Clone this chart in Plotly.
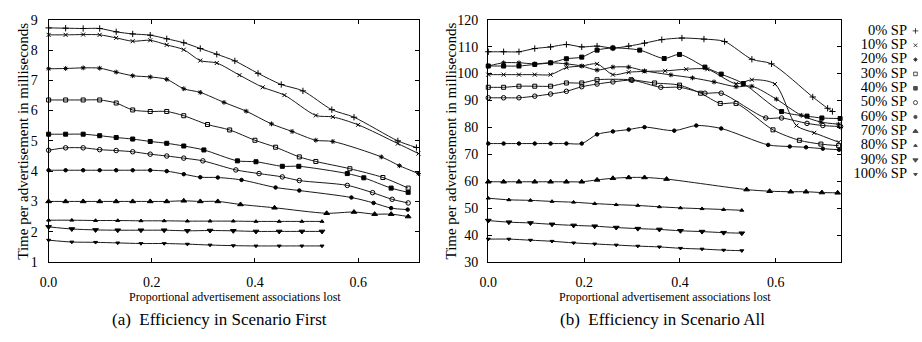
import plotly.graph_objects as go

LABELS = ["0% SP", "10% SP", "20% SP", "30% SP", "40% SP", "50% SP",
          "60% SP", "70% SP", "80% SP", "90% SP", "100% SP"]
X_TICKS = [0.0, 0.2, 0.4, 0.6]

# ---------------- (a) Scenario First ----------------
A_X_0 = [0, .033, .067, .099, .131, .163, .197, .229, .262, .294, .326, .361, .406, .451, .493, .549, .592, .677, .713]
A_Y_0 = [8.73, 8.72, 8.71, 8.71, 8.60, 8.53, 8.49, 8.37, 8.24, 8.05, 7.86, 7.64, 7.23, 6.86, 6.65, 6.03, 5.78, 5.00, 4.78]
A_X_10 = [0, .033, .067, .099, .131, .163, .197, .229, .262, .294, .326, .370, .415, .457, .518, .551, .600, .677, .717]
A_Y_10 = [8.50, 8.50, 8.51, 8.50, 8.40, 8.29, 8.32, 8.17, 8.01, 7.65, 7.57, 7.17, 6.77, 6.51, 5.84, 5.79, 5.53, 4.91, 4.58]
A_X_20 = [0, .033, .067, .099, .131, .163, .197, .229, .262, .294, .340, .383, .432, .472, .518, .551, .645, .680, .717]
A_Y_20 = [7.38, 7.39, 7.41, 7.40, 7.27, 7.15, 7.11, 7.03, 6.72, 6.60, 6.27, 5.98, 5.56, 5.31, 5.02, 4.98, 4.47, 4.18, 3.92]
A_X_30 = [0, .033, .067, .099, .131, .163, .197, .229, .262, .308, .351, .400, .440, .486, .518, .584, .648, .697]
A_Y_30 = [6.35, 6.35, 6.35, 6.35, 6.25, 6.02, 5.97, 5.97, 5.83, 5.54, 5.36, 5.02, 4.79, 4.47, 4.32, 4.08, 3.79, 3.44]
A_X_40 = [0, .033, .067, .099, .131, .163, .197, .229, .262, .301, .366, .402, .453, .485, .579, .611, .664, .697]
A_Y_40 = [5.22, 5.22, 5.22, 5.17, 5.11, 5.06, 4.98, 4.92, 4.83, 4.70, 4.34, 4.31, 4.16, 4.16, 3.92, 3.78, 3.44, 3.30]
A_X_50 = [0, .033, .067, .099, .131, .163, .197, .229, .262, .299, .363, .408, .453, .486, .579, .628, .666, .697]
A_Y_50 = [4.69, 4.77, 4.77, 4.71, 4.68, 4.64, 4.56, 4.50, 4.43, 4.34, 4.04, 3.92, 3.81, 3.69, 3.53, 3.29, 3.07, 2.95]
A_X_60 = [0, .033, .067, .099, .131, .163, .197, .229, .262, .294, .328, .374, .440, .486, .587, .630, .664, .696]
A_Y_60 = [4.03, 4.03, 4.03, 4.03, 4.03, 4.03, 4.03, 4.00, 3.90, 3.80, 3.79, 3.71, 3.46, 3.36, 3.13, 2.95, 2.78, 2.73]
A_X_70 = [0, .033, .067, .099, .131, .163, .197, .229, .262, .294, .328, .372, .438, .539, .592, .632, .664, .697]
A_Y_70 = [3.00, 3.00, 3.00, 3.00, 3.00, 3.00, 3.00, 3.00, 3.02, 3.00, 3.00, 2.90, 2.79, 2.61, 2.65, 2.58, 2.58, 2.50]
A_X_SPARSE = [0, .045, .091, .134, .179, .224, .269, .313, .358, .402, .447, .491, .530]
A_Y_80 = [2.38, 2.38, 2.37, 2.37, 2.36, 2.36, 2.35, 2.35, 2.35, 2.34, 2.34, 2.34, 2.34]
A_Y_90 = [2.16, 2.09, 2.06, 2.05, 2.05, 2.05, 2.03, 2.04, 2.03, 2.01, 2.01, 2.01, 2.01]
A_Y_100 = [1.72, 1.66, 1.65, 1.63, 1.61, 1.61, 1.59, 1.56, 1.54, 1.53, 1.53, 1.53, 1.53]

# ---------------- (b) Scenario All ----------------
B_X_0 = [0, .032, .064, .097, .130, .163, .195, .227, .260, .293, .326, .362, .404, .450, .493, .550, .591, .677, .708, .718]
B_Y_0 = [108.1, 108.1, 108.1, 109.3, 109.9, 110.8, 109.9, 110.2, 109.5, 110.2, 111.3, 112.6, 113.2, 112.8, 111.9, 105.3, 103.6, 91.3, 87.1, 85.9]
B_X_10 = [0, .032, .064, .097, .130, .163, .195, .227, .260, .293, .326, .369, .413, .457, .517, .550, .598, .643, .680, .731]
B_Y_10 = [99.6, 99.6, 99.6, 99.6, 99.6, 102.2, 102.8, 103.6, 99.6, 100.5, 100.8, 101.0, 101.6, 101.6, 96.2, 97.7, 96.1, 80.7, 78.0, 74.5]
B_X_20 = [0, .032, .064, .097, .130, .163, .195, .227, .260, .293, .326, .381, .426, .471, .517, .550, .601, .653, .694, .731]
B_Y_20 = [102.8, 104.0, 104.0, 103.6, 104.0, 103.6, 102.8, 101.3, 102.4, 102.4, 101.0, 99.5, 98.4, 96.9, 95.1, 95.3, 90.5, 84.5, 82.0, 81.2]
B_X_30 = [0, .032, .064, .097, .130, .163, .195, .227, .298, .347, .399, .443, .484, .517, .594, .649, .694, .731]
B_Y_30 = [94.9, 94.9, 95.3, 95.3, 95.3, 96.5, 96.5, 97.7, 97.7, 96.5, 95.7, 92.7, 88.9, 88.9, 79.1, 75.2, 73.8, 73.2]
B_X_40 = [0, .032, .064, .097, .130, .163, .195, .227, .260, .316, .367, .399, .452, .486, .532, .612, .665, .696, .734]
B_Y_40 = [102.8, 102.8, 102.8, 103.4, 104.0, 105.5, 106.1, 108.7, 109.5, 108.7, 105.6, 107.1, 102.4, 99.8, 96.3, 85.9, 84.2, 83.5, 83.3]
B_X_50 = [0, .032, .064, .097, .130, .163, .195, .227, .260, .300, .360, .399, .452, .486, .579, .612, .665, .698, .735]
B_Y_50 = [91.0, 91.0, 91.0, 91.6, 92.4, 93.4, 95.1, 96.1, 96.9, 97.5, 94.9, 94.9, 92.7, 92.7, 83.5, 83.5, 81.5, 80.7, 80.3]
B_X_60 = [0, .032, .064, .097, .130, .163, .195, .227, .260, .293, .326, .388, .434, .486, .584, .629, .663, .698, .732]
B_Y_60 = [74.0, 74.0, 74.0, 74.0, 74.0, 74.0, 74.0, 77.4, 78.5, 79.2, 80.1, 78.8, 80.7, 79.6, 73.5, 72.9, 72.6, 72.1, 71.7]
B_X_70 = [0, .032, .064, .097, .130, .163, .195, .227, .260, .293, .326, .372, .539, .587, .631, .663, .696, .729]
B_Y_70 = [59.8, 59.8, 59.8, 59.8, 59.8, 59.8, 59.8, 60.5, 61.1, 61.4, 61.4, 60.8, 56.9, 56.3, 56.1, 56.1, 55.8, 55.7]
B_X_SPARSE = [0, .043, .088, .133, .178, .222, .267, .312, .357, .401, .446, .491, .529]
B_Y_80 = [53.7, 53.1, 52.9, 52.5, 52.2, 51.7, 51.3, 51.0, 50.5, 50.1, 49.8, 49.5, 49.2]
B_Y_90 = [45.4, 44.8, 44.5, 44.0, 43.6, 43.3, 42.8, 42.4, 42.1, 41.6, 41.3, 40.9, 40.7]
B_Y_100 = [38.5, 38.5, 38.1, 37.7, 37.1, 36.7, 36.3, 35.9, 35.6, 35.1, 34.8, 34.4, 34.2]

A_SERIES = [(A_X_0, A_Y_0), (A_X_10, A_Y_10), (A_X_20, A_Y_20), (A_X_30, A_Y_30),
            (A_X_40, A_Y_40), (A_X_50, A_Y_50), (A_X_60, A_Y_60), (A_X_70, A_Y_70),
            (A_X_SPARSE, A_Y_80), (A_X_SPARSE, A_Y_90), (A_X_SPARSE, A_Y_100)]
B_SERIES = [(B_X_0, B_Y_0), (B_X_10, B_Y_10), (B_X_20, B_Y_20), (B_X_30, B_Y_30),
            (B_X_40, B_Y_40), (B_X_50, B_Y_50), (B_X_60, B_Y_60), (B_X_70, B_Y_70),
            (B_X_SPARSE, B_Y_80), (B_X_SPARSE, B_Y_90), (B_X_SPARSE, B_Y_100)]

SYMBOLS = ["cross-thin-open", "x-thin-open", "asterisk-open", "square-open", "square",
           "circle-open", "circle", "triangle-up", "triangle-up", "triangle-down", "triangle-down"]
SIZES = [4.5, 4, 4, 4, 4, 4.5, 3.5, 5, 3.5, 5, 3.5]

FONT = "Liberation Serif"
W, H = 922, 342
LINE_COLOR = "#1a1a1a"

fig = go.Figure()

def add_series(series, xa, ya):
    for i, (xs, ys) in enumerate(series):
        fig.add_trace(go.Scatter(
            x=xs, y=ys, xaxis=xa, yaxis=ya, mode="lines+markers",
            line=dict(color=LINE_COLOR, width=1, shape="spline", smoothing=0.8),
            marker=dict(symbol=SYMBOLS[i], size=SIZES[i], color="black",
                        line=dict(color="black", width=1)),
            name=LABELS[i], showlegend=False, cliponaxis=False))

add_series(A_SERIES, "x", "y")
add_series(B_SERIES, "x2", "y2")

# key: right-aligned labels with the symbol to their right
fig.add_trace(go.Scatter(
    x=[-1.3] * len(LABELS), y=LABELS, xaxis="x3", yaxis="y3",
    mode="text", text=LABELS, textposition="middle left",
    textfont=dict(family=FONT, size=14.5, color="black"),
    showlegend=False, cliponaxis=False, hoverinfo="skip"))
fig.add_trace(go.Scatter(
    x=[0] * len(LABELS), y=LABELS, xaxis="x3", yaxis="y3",
    mode="markers",
    marker=dict(symbol=SYMBOLS, size=[s * 0.9 for s in SIZES], color="black",
                line=dict(color="black", width=1)),
    showlegend=False, cliponaxis=False))

def px_x(p):
    return p / W

def px_y(p):
    return 1 - p / H

axis_common = dict(
    showline=True, linecolor="black", linewidth=1.3, mirror="ticks",
    ticks="inside", ticklen=4, tickwidth=1, tickcolor="black",
    showgrid=False, zeroline=False,
    tickfont=dict(family=FONT, size=14, color="black"),
)

fig.update_layout(
    width=W, height=H, margin=dict(l=0, r=0, t=0, b=0),
    paper_bgcolor="white", plot_bgcolor="white",
    font=dict(family=FONT, color="black"),
    xaxis=dict(domain=[px_x(40), px_x(414.3)], range=[0, 0.7185], anchor="y",
               tickvals=X_TICKS, tickformat=".1f", ticklabelstandoff=7, **axis_common),
    yaxis=dict(domain=[px_y(266.7), px_y(13.3)], range=[1, 9], dtick=1, anchor="x",
               ticklabelstandoff=7, **axis_common),
    xaxis2=dict(domain=[px_x(484), px_x(840)], range=[0, 0.7355], anchor="y2",
                tickvals=X_TICKS, tickformat=".1f", ticklabelstandoff=7, **axis_common),
    yaxis2=dict(domain=[px_y(266.7), px_y(13.3)], range=[30, 120], dtick=10, anchor="x2",
                ticklabelstandoff=6, **axis_common),
    xaxis3=dict(domain=[0.95, 1.0], range=[-6, 1], visible=False, anchor="y3"),
    yaxis3=dict(domain=[px_y(182.5), px_y(17.5)], type="category", categoryarray=LABELS,
                range=[10.5, -0.5], visible=False, anchor="x3"),
)

YTITLE = "Time per advertisement in milliseconds"
XTITLE = "Proportional advertisement associations lost"
ann = [
    dict(text=YTITLE, x=px_x(14), y=px_y(140), textangle=-90, font=dict(size=15)),
    dict(text=YTITLE, x=px_x(446), y=px_y(140), textangle=-90, font=dict(size=15)),
    dict(text=XTITLE, x=px_x(228), y=px_y(303), font=dict(size=12)),
    dict(text=XTITLE, x=px_x(662), y=px_y(303), font=dict(size=12)),
    dict(text="(a)\u00a0 Efficiency in Scenario First", x=px_x(213), y=px_y(327), font=dict(size=17)),
    dict(text="(b)\u00a0 Efficiency in Scenario All", x=px_x(660), y=px_y(327), font=dict(size=17)),
]
for a in ann:
    a.update(xref="paper", yref="paper", showarrow=False, xanchor="center", yanchor="middle")
    a["font"].update(family=FONT, color="black")
fig.update_layout(annotations=ann)

fig.write_html("out.html")
